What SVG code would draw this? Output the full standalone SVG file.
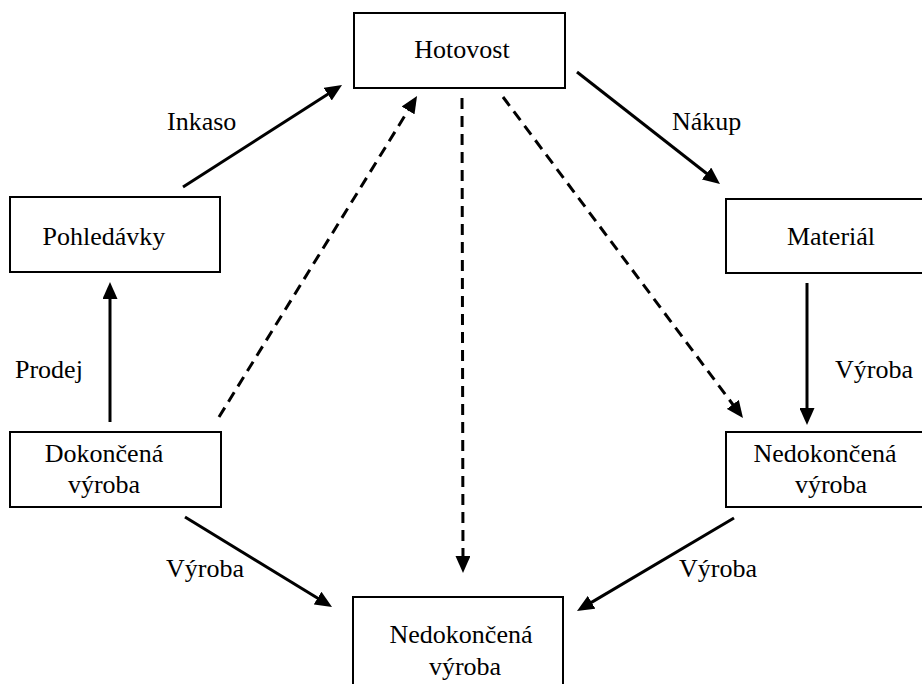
<svg xmlns="http://www.w3.org/2000/svg" width="922" height="684" viewBox="0 0 922 684">
<style>
.box{fill:#fff;stroke:#000;stroke-width:2}
text{font-family:'Liberation Serif','Times New Roman',serif;font-size:26px;fill:#000}
.c{text-anchor:middle}
.ln{stroke:#000;stroke-width:3;fill:none;marker-end:url(#ah)}
.dash{stroke-dasharray:11 7}
</style>
<defs>
<marker id="ah" viewBox="0 0 17 15" refX="7" refY="7.5" markerWidth="17" markerHeight="15" markerUnits="userSpaceOnUse" orient="auto">
<path d="M0,0 L17,7.5 L0,15 z" fill="#000"/>
</marker>
</defs>
<rect width="922" height="684" fill="#fff"/>
<g id="hotovost"><rect class="box" x="354" y="13" width="211" height="75"/><text class="c" x="462" y="58">Hotovost</text></g>
<g id="pohledavky"><rect class="box" x="10" y="197" width="210" height="75"/><text class="c" x="104" y="245">Pohledávky</text></g>
<g id="material"><rect class="box" x="726" y="199" width="220" height="74"/><text class="c" x="831" y="245">Materiál</text></g>
<g id="dokoncena"><rect class="box" x="10" y="432" width="211" height="75"/><text class="c" x="104" y="462">Dokončená</text><text class="c" x="104" y="493">výroba</text></g>
<g id="nedokoncena-r"><rect class="box" x="726" y="432" width="220" height="75"/><text class="c" x="825" y="462">Nedokončená</text><text class="c" x="831" y="493">výroba</text></g>
<g id="nedokoncena-b"><rect class="box" x="353" y="597" width="210" height="110"/><text class="c" x="461" y="643">Nedokončená</text><text class="c" x="465" y="675">výroba</text></g>
<g id="connectors">
<line class="ln" x1="183" y1="187" x2="333.6" y2="90.4"/>
<line class="ln" x1="577" y1="72" x2="712.1" y2="177.8"/>
<line class="ln" x1="110" y1="422" x2="110" y2="292"/>
<line class="ln" x1="807" y1="283" x2="807" y2="415"/>
<line class="ln" x1="185" y1="517" x2="323.5" y2="601.8"/>
<line class="ln" x1="734" y1="518" x2="585.6" y2="605.9"/>
<line class="ln dash" x1="219" y1="417" x2="411.8" y2="104.5"/>
<line class="ln dash" x1="462" y1="98" x2="463" y2="563"/>
<line class="ln dash" x1="503" y1="97" x2="737" y2="410"/>
</g>
<g id="labels">
<text x="167" y="130">Inkaso</text>
<text x="672" y="130">Nákup</text>
<text x="15" y="378">Prodej</text>
<text x="835" y="378">Výroba</text>
<text x="166" y="577">Výroba</text>
<text x="679" y="577">Výroba</text>
</g>
</svg>
